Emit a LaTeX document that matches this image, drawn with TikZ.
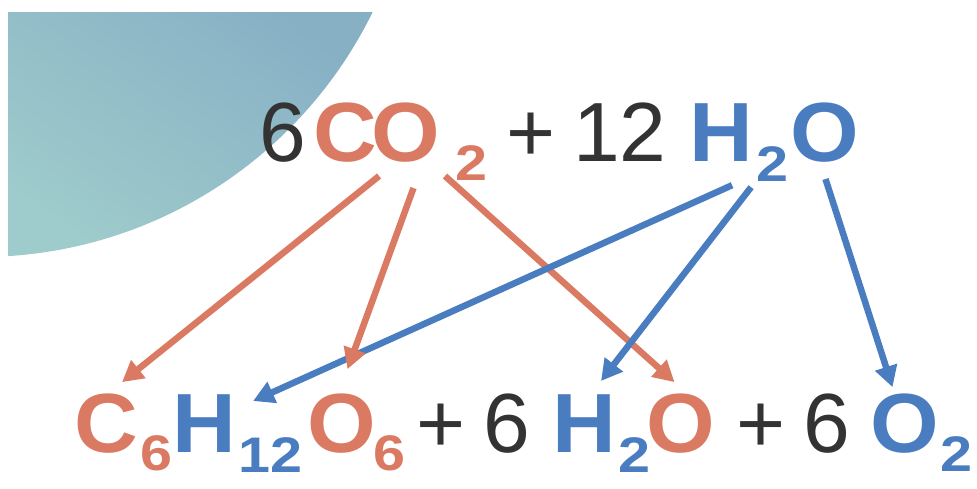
\documentclass[tikz,border=0pt]{standalone}
\usepackage{fontspec}
\setmainfont{Liberation Sans}
\newfontfamily\chemfont{Liberation Sans}[FakeStretch=1.05]
\newfontfamily\idxfont{Liberation Sans}[FakeStretch=1.15]
\usetikzlibrary{arrows.meta, positioning}
\definecolor{phorange}{HTML}{DB7A62}
\definecolor{phblue}{HTML}{4A7CC0}
\definecolor{phgray}{HTML}{333333}
\definecolor{phteal}{HTML}{9ECBCB}
\definecolor{phsky}{HTML}{88B0C5}

\begin{document}
\begin{tikzpicture}[x=1pt, y=-1pt,
  num/.style={font=\fontsize{84}{90}\selectfont, text=phgray, inner sep=0pt, anchor=base west},
  atom/.style={font=\chemfont\bfseries\fontsize{84}{90}\selectfont, text=#1, inner sep=0pt, anchor=base west},
  idx/.style={font=\idxfont\bfseries\fontsize{50}{56}\selectfont, text=#1, inner sep=0pt, anchor=base west},
  arr/.style={-{Triangle[length=21pt, width=22pt]}, line width=6.5pt, draw=#1},
]
  \useasboundingbox (0,0) rectangle (977,489);

  % backdrop disc in the corner
  \begin{scope}
    \clip (8,13) rectangle (977,489);
    \clip (-20,-180) circle (437pt);
    \shade[bottom color=phteal, top color=phsky, shading angle=-35] (8,13) rectangle (380,260);
  \end{scope}

  % 6 CO2 + 12 H2O
  \node[num] (t6) at (259,162) {6};
  \node[atom=phorange] (cC) at (313,162) {C};
  \node[atom=phorange] (cO) at (371,162) {O};
  \node[idx=phorange] (c2) at (455,181) {2};
  \node[num] (tplus) at (506,162) {+};
  \node[num] (t12) at (573,162) {12};
  \node[atom=phblue] (wH) at (689,162) {H};
  \node[idx=phblue] (w2) at (756,182) {2};
  \node[atom=phblue] (wO) at (790,162) {O};

  % C6H12O6 + 6 H2O + 6 O2
  \node[atom=phorange] (gC) at (74,452) {C};
  \node[idx=phorange] (g6) at (140,470) {6};
  \node[atom=phblue] (gH) at (172,452) {H};
  \node[idx=phblue] (g12) at (238,472) {12};
  \node[atom=phorange] (gO) at (307,452) {O};
  \node[idx=phorange] (g6b) at (373,470) {6};
  \node[num] (bplus) at (416,452) {+};
  \node[num] (b6) at (483,452) {6};
  \node[atom=phblue] (pH) at (552,452) {H};
  \node[idx=phblue] (p2) at (618,472) {2};
  \node[atom=phorange] (pO) at (646,452) {O};
  \node[num] (bplus2) at (736,452) {+};
  \node[num] (b6b) at (803,452) {6};
  \node[atom=phblue] (oO) at (870,452) {O};
  \node[idx=phblue] (o2) at (940,471) {2};

  \draw[arr=phorange] ([shift={(5,13)}]cO.south east) -- ([shift={(-6,-11)}]pO.north);
  \draw[arr=phblue] ([shift={(-21,23)}]wH.south east) -- ([shift={(17,7)}]gH.north east);
  \draw[arr=phorange] ([shift={(2,13)}]cC.south east) -- ([shift={(16,-11)}]gC.north);
  \draw[arr=phorange] ([shift={(8,25)}]cO.south) -- ([shift={(6,-24)}]gO.north);
  \draw[arr=phblue] ([shift={(-2,25)}]wH.south east) -- ([shift={(17,-13)}]pH.north);
  \draw[arr=phblue] ([shift={(1,16)}]wO.south) -- ([shift={(-12,-6)}]oO.north);
\end{tikzpicture}
\end{document}
